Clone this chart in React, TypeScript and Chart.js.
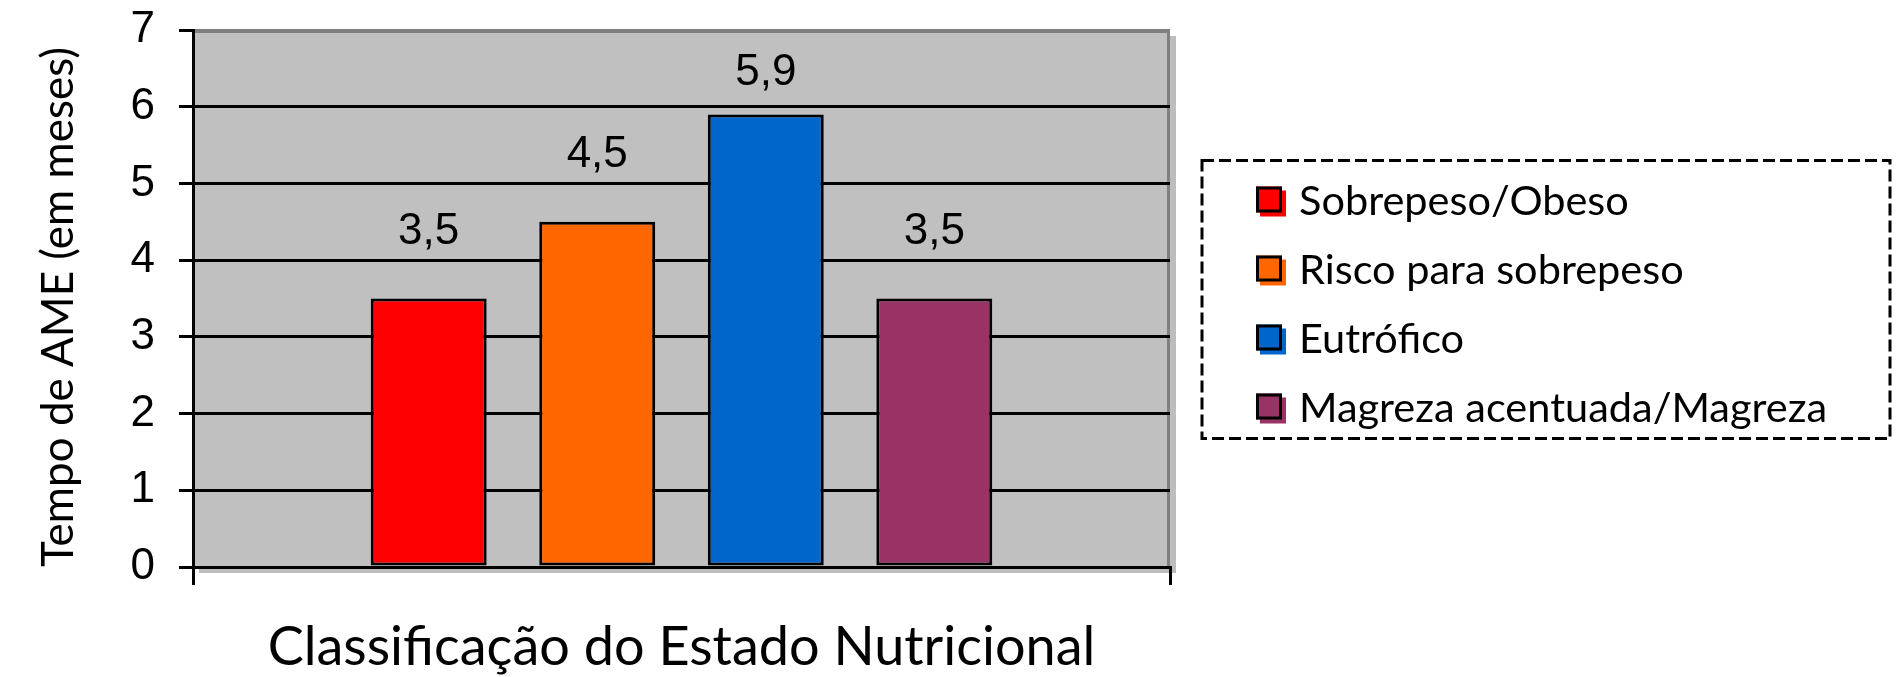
import { useEffect, useRef } from 'react';
import { Chart, registerables } from 'chart.js';

Chart.register(...registerables);

// ---- data ----
const categories = [''];
const seriesLabels = ['Sobrepeso/Obeso', 'Risco para sobrepeso', 'Eutrófico', 'Magreza acentuada/Magreza'];
const seriesValues = [3.5, 4.5, 5.9, 3.5];
const seriesColors = ['#FF0000', '#FF6600', '#0066CC', '#993366'];
const yMin = 0;
const yMax = 7;
const yStep = 1;
const yTitle = 'Tempo de AME (em meses)';
const xTitle = 'Classificação do Estado Nutricional';

const TITLE_FONT = 'Lato';
const NUM_FONT = '"Liberation Sans", Arial, sans-serif';

const plotBackground = {
  id: 'plotBackground',
  beforeDraw(chart: any) {
    const { ctx, chartArea: a } = chart;
    ctx.save();
    ctx.fillStyle = '#bdbdbd';
    ctx.fillRect(a.left + 6, a.top + 6, a.width, a.height);
    ctx.fillStyle = '#C0C0C0';
    ctx.fillRect(a.left, a.top, a.width, a.height);
    ctx.strokeStyle = '#808080';
    ctx.lineWidth = 3;
    ctx.beginPath();
    ctx.moveTo(a.left, a.top + 1.5);
    ctx.lineTo(a.right - 1.5, a.top + 1.5);
    ctx.lineTo(a.right - 1.5, a.bottom);
    ctx.stroke();
    ctx.restore();
  },
};

const valueLabels = {
  id: 'valueLabels',
  afterDatasetsDraw(chart: any) {
    const { ctx, chartArea: a } = chart;
    ctx.save();
    ctx.font = `44px ${NUM_FONT}`;
    ctx.fillStyle = '#000';
    ctx.textAlign = 'center';
    ctx.textBaseline = 'middle';
    chart.data.datasets.forEach((ds: any, i: number) => {
      const meta = chart.getDatasetMeta(i);
      meta.data.forEach((el: any, j: number) => {
        const v = ds.data[j] as number;
        const y = Math.max(el.y - 67, a.top + 43);
        ctx.fillText(String(v).replace('.', ','), el.x, y);
      });
    });
    ctx.restore();
  },
};

const boxedLegend = {
  id: 'boxedLegend',
  afterDraw(chart: any) {
    const { ctx, chartArea: a } = chart;
    const left = a.right + 32;
    const right = chart.width - 13;
    const mid = (a.top + a.bottom) / 2 + 1;
    const top = mid - 139;
    const bottom = mid + 139;
    ctx.save();
    ctx.strokeStyle = '#000';
    ctx.lineWidth = 3;
    ctx.setLineDash([12, 5]);
    ctx.strokeRect(left, top, right - left, bottom - top);
    ctx.setLineDash([]);
    const rowGap = 69;
    const first = top + 41;
    ctx.font = `41.5px ${TITLE_FONT}`;
    ctx.textAlign = 'left';
    ctx.textBaseline = 'middle';
    chart.data.datasets.forEach((ds: any, i: number) => {
      const cy = first + i * rowGap;
      const sx = left + 54;
      const s = 26;
      const sy = cy - 2 - s / 2;
      ctx.fillStyle = ds.backgroundColor;
      ctx.fillRect(sx + 4, sy + 4, s, s);
      ctx.fillRect(sx, sy, s, s);
      ctx.strokeStyle = '#000';
      ctx.lineWidth = 3;
      ctx.strokeRect(sx + 1.5, sy + 1.5, s - 3, s - 3);
      ctx.fillStyle = '#000';
      ctx.fillText(ds.label, left + 97, cy);
    });
    ctx.restore();
  },
};

export default function App() {
  const ref = useRef<HTMLCanvasElement>(null);

  useEffect(() => {
    if (!ref.current) return;
    const chart = new Chart(ref.current, {
      type: 'bar',
      data: {
        labels: categories,
        datasets: seriesLabels.map((label, i) => ({
          label,
          data: [seriesValues[i]],
          backgroundColor: seriesColors[i],
          borderColor: '#000',
          borderWidth: 3,
          borderSkipped: false,
          categoryPercentage: 0.69,
          barPercentage: 0.688,
        })),
      },
      options: {
        responsive: false,
        animation: false,
        layout: { padding: { top: 30, right: 733, bottom: 0, left: 0 } },
        plugins: {
          legend: { display: false },
          tooltip: { enabled: false },
          title: { display: false },
        },
        scales: {
          x: {
            offset: true,
            grid: {
              display: true,
              offset: true,
              drawOnChartArea: false,
              drawTicks: true,
              tickLength: 18,
              color: '#000',
              lineWidth: 3,
            },
            border: { display: true, color: '#000', width: 3 },
            ticks: { display: true, color: '#000', font: { family: NUM_FONT, size: 20 } },
            title: {
              display: true,
              text: xTitle,
              color: '#000',
              font: { family: TITLE_FONT, size: 54, lineHeight: 1 },
              padding: { top: 0, bottom: 2 },
            },
            afterFit(scale: any) {
              scale.height = 110;
              scale.paddingLeft = 0;
              scale.paddingRight = 0;
            },
          },
          y: {
            min: yMin,
            max: yMax,
            ticks: {
              stepSize: yStep,
              color: '#000',
              padding: 24,
              font: { family: NUM_FONT, size: 44 },
            },
            grid: {
              color: (c: any) => (c.tick && c.tick.value === yMax ? '#808080' : '#000'),
              tickColor: '#000',
              lineWidth: 3,
              tickLength: 14,
            },
            border: { display: true, color: '#000', width: 3 },
            title: {
              display: true,
              text: yTitle,
              align: 'start',
              color: '#000',
              font: { family: TITLE_FONT, size: 44, lineHeight: 1.2 },
              padding: { top: 32, bottom: 0 },
            },
            afterFit(scale: any) {
              scale.width = 193;
              scale.paddingTop = 0;
              scale.paddingBottom = 0;
            },
          },
        },
      } as any,
      plugins: [plotBackground, valueLabels, boxedLegend],
    });
    return () => chart.destroy();
  }, []);

  return (
    <div style={{ position: 'fixed', left: 0, top: 0, width: 1903, height: 677, background: '#fff' }}>
      <canvas ref={ref} width={1903} height={677} style={{ display: 'block', width: 1903, height: 677 }} />
    </div>
  );
}
